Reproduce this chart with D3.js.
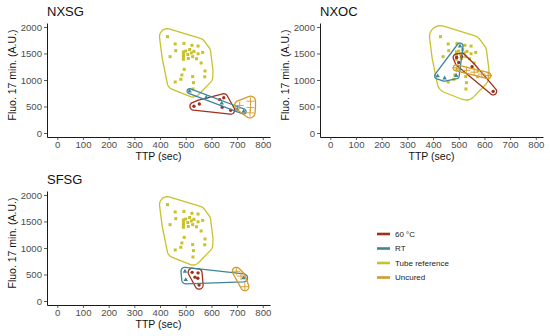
<!DOCTYPE html>
<html>
<head>
<meta charset="utf-8">
<script src="https://cdn.jsdelivr.net/npm/d3@7"></script>
<style>
body { margin: 0; background: #fff; }
text { font-family: "Liberation Sans", Arial, sans-serif; }
</style>
</head>
<body>
<div id="chart"></div>
<script>
// values: [TTP (sec), Fluo 17 min (A.U.)]
var tubeReference = [[429,1817],[459,1680],[493,1690],[524,1655],[548,1640],[461,1553],[439,1440],
  [491,1530],[491,1495],[491,1460],[491,1425],[491,1390],[500,1545],[508,1480],[515,1575],[522,1510],
  [532,1540],[548,1495],[566,1520],[527,1440],[510,1405],[542,1400],[560,1320],[575,1170],[574,1060],
  [494,1200],[485,1095],[481,1013],[459,962],[527,1064],[530,950],[528,830]];

var nxsg60 = [[532,505],[553,547],[632,630],[648,665],[642,485],[675,430]];
var nxsgRT = [[515,790],[580,671],[640,561],[700,451],[725,405]];
var nxsgUncured = [[710,520],[752,600],[752,480],[750,380]];

var nxoc60 = [[492,1425],[512,1440],[500,1330],[552,1250],[634,785]];
var nxocRT = [[505,1640],[418,1075],[445,1035],[490,1080]];
var nxocUncured = [[490,1230],[530,1182],[560,1147],[590,1111],[614,1082]];

var sfsg60 = [[525,540],[548,530],[536,450],[547,430],[552,300]];
var sfsgRT = [[497,560],[500,400],[725,435]];
var sfsgUncured = [[697,560],[715,470],[730,270]];

var groups = ["60 °C", "RT", "Tube reference", "Uncured"];
var groupColors = ["#a0301d", "#3f8598", "#c9c12b", "#d69a2a"];
var xTicks = [0,100,200,300,400,500,600,700,800];
var yTicks = [0,500,1000,1500,2000];

// hull padding (px) per set: tube, 60, RT, uncured
var panels = [
  { name: "NXSG", left: 47, right: 270, bottom: 137, top: 23, pads: [8, 4, 2.5, 5],
    sets: [tubeReference, nxsg60, nxsgRT, nxsgUncured] },
  { name: "NXOC", left: 320, right: 543, bottom: 137, top: 23, pads: [11, 3.5, 3, 3],
    sets: [tubeReference, nxoc60, nxocRT, nxocUncured] },
  { name: "SFSG", left: 47, right: 270, bottom: 305, top: 191, pads: [8, 4, 4, 4],
    sets: [tubeReference, sfsg60, sfsgRT, sfsgUncured] }
];
var setGroup = [2, 0, 1, 3];

var color = d3.scaleOrdinal().domain(groups).range(groupColors);
var shape = d3.scaleOrdinal().domain(groups)
  .range([d3.symbolCircle, d3.symbolTriangle, d3.symbolSquare, d3.symbolPlus]);

var svg = d3.select("#chart").append("svg")
  .attr("width", 550).attr("height", 336);

// convex hull pushed out by r pixels with round corners
function roundHull(pts, r) {
  var h = d3.polygonHull(pts);
  if (!h) h = pts.slice();
  var area = 0;
  for (var i = 0; i < h.length; i++) {
    var a = h[i], b = h[(i + 1) % h.length];
    area += a[0] * b[1] - b[0] * a[1];
  }
  if (area < 0) h.reverse();
  var n = h.length, normals = [];
  for (var i = 0; i < n; i++) {
    var a = h[i], b = h[(i + 1) % n];
    var dx = b[0] - a[0], dy = b[1] - a[1], len = Math.hypot(dx, dy) || 1;
    normals.push(Math.atan2(-dx / len, dy / len));
  }
  var out = [];
  for (var i = 0; i < n; i++) {
    var a0 = normals[(i - 1 + n) % n], a1 = normals[i];
    var delta = a1 - a0;
    while (delta < 0) delta += 2 * Math.PI;
    while (delta >= 2 * Math.PI) delta -= 2 * Math.PI;
    var steps = Math.max(2, Math.ceil(delta / 0.15));
    for (var s = 0; s <= steps; s++) {
      var t = a0 + delta * s / steps;
      out.push([h[i][0] + r * Math.cos(t), h[i][1] + r * Math.sin(t)]);
    }
  }
  return out;
}

panels.forEach(function (p) {
  var x = d3.scaleLinear().domain([-40, 828]).range([p.left, p.right]);
  var y = d3.scaleLinear().domain([-75.5, 2075]).range([p.bottom, p.top]);

  var g = svg.append("g");

  var xa = g.append("g")
    .attr("transform", "translate(0," + p.bottom + ")")
    .call(d3.axisBottom(x).tickValues(xTicks).tickFormat(d3.format("d"))
      .tickSize(3).tickSizeOuter(0).tickPadding(1.5));
  var ya = g.append("g")
    .attr("transform", "translate(" + p.left + ",0)")
    .call(d3.axisLeft(y).tickValues(yTicks).tickFormat(d3.format("d"))
      .tickSize(3).tickSizeOuter(0).tickPadding(2));
  [xa, ya].forEach(function (ax) {
    ax.select(".domain").attr("stroke", "#000").attr("stroke-width", 0.9);
    ax.selectAll(".tick line").attr("stroke", "#333").attr("stroke-width", 0.8);
    ax.selectAll(".tick text").attr("fill", "#4d4d4d").style("font-size", "9.6px")
      .style("font-family", "Liberation Sans, Arial, sans-serif");
  });

  g.append("text")
    .attr("x", p.left).attr("y", p.top - 7.5)
    .style("font-size", "13px").attr("fill", "#111")
    .text(p.name);

  g.append("text")
    .attr("x", (p.left + p.right) / 2).attr("y", p.bottom + 23)
    .attr("text-anchor", "middle").style("font-size", "10.5px").attr("fill", "#111")
    .text("TTP (sec)");

  g.append("text")
    .attr("transform", "translate(" + (p.left - 31) + "," + (p.top + 52) + ") rotate(-90)")
    .attr("text-anchor", "middle").style("font-size", "10.5px").attr("fill", "#111")
    .text("Fluo. 17 min. (A.U.)");

  p.sets.forEach(function (set, si) {
    var grp = groups[setGroup[si]];
    var px = set.map(function (d) { return [x(d[0]), y(d[1])]; });
    var hull = roundHull(px, p.pads[si]);
    g.append("path")
      .attr("d", d3.line().curve(d3.curveLinearClosed)(hull))
      .attr("fill", "none")
      .attr("stroke", color(grp))
      .attr("stroke-width", 1.3);

    var isPlus = grp === "Uncured";
    g.selectAll(null).data(set).enter().append("path")
      .attr("transform", function (d) { return "translate(" + x(d[0]) + "," + y(d[1]) + ")"; })
      .attr("d", d3.symbol().type(shape(grp)).size(isPlus ? 22 : 9))
      .attr("fill", isPlus ? "none" : color(grp))
      .attr("stroke", isPlus ? color(grp) : "none")
      .attr("stroke-width", 0.9);
  });
});

// legend
var legend = svg.append("g").attr("transform", "translate(377,234)");
groups.forEach(function (gname, i) {
  var row = legend.append("g").attr("transform", "translate(0," + (i * 14.5) + ")");
  row.append("line")
    .attr("x1", 0).attr("x2", 13).attr("y1", 0).attr("y2", 0)
    .attr("stroke", color(gname)).attr("stroke-width", 2.6);
  row.append("text")
    .attr("x", 18).attr("y", 0).attr("dy", "0.35em")
    .style("font-size", "8px").attr("fill", "#222")
    .text(gname);
});
</script>
</body>
</html>
